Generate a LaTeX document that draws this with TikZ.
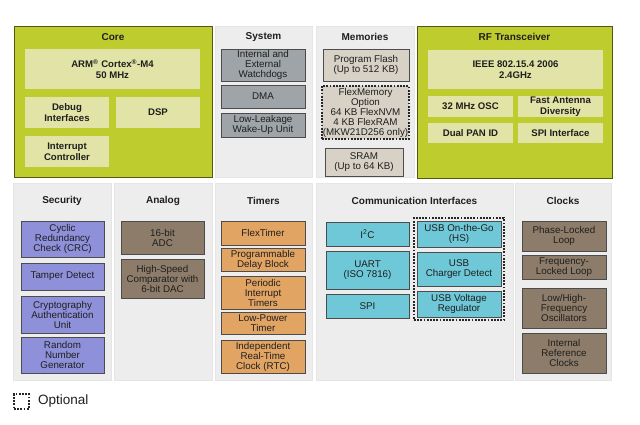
\documentclass[tikz,border=0pt]{standalone}
\usepackage{fontspec}
\setmainfont{Liberation Sans}
\usepackage{tikz}

\definecolor{lime}{HTML}{BFCC2E}
\definecolor{limedark}{HTML}{545912}
\definecolor{limepale}{HTML}{E1E4A6}
\definecolor{panelgray}{HTML}{EDEDED}
\definecolor{sysgray}{HTML}{9EA4A8}
\definecolor{memtan}{HTML}{D8D2C6}
\definecolor{secblue}{HTML}{8E90DA}
\definecolor{anabrown}{HTML}{8C7C69}
\definecolor{timorange}{HTML}{E2A463}
\definecolor{comcyan}{HTML}{6EC8D7}

\begin{document}
\begin{tikzpicture}[x=1pt,y=-1pt]
\tikzstyle{every node}+=[inner sep=0pt, align=center, text=black!88, font=\fontsize{9.8}{10}\selectfont]
\tikzstyle{panel}=[fill=panelgray, draw=black!10, line width=0.5]
\tikzstyle{limepanel}=[fill=lime, draw=limedark, line width=0.9]
\tikzstyle{title}=[font=\fontsize{10}{11}\selectfont\bfseries]
\tikzstyle{box}=[draw=black!70, line width=0.6]
\tikzstyle{corebox}=[fill=limepale, font=\fontsize{9.6}{10.5}\selectfont\bfseries]
\tikzstyle{sysbox}=[box, fill=sysgray, minimum width=84]
\tikzstyle{membox}=[box, fill=memtan]
\tikzstyle{secbox}=[box, fill=secblue, minimum width=83]
\tikzstyle{anabox}=[box, fill=anabrown, minimum width=83]
\tikzstyle{timbox}=[box, fill=timorange, minimum width=84]
\tikzstyle{combox}=[box, fill=comcyan, minimum width=83]
\tikzstyle{clkbox}=[box, fill=anabrown, minimum width=84]
\tikzstyle{optional}=[draw=black!85, dash pattern=on 1.8pt off 1.4pt, line width=1.1]
\useasboundingbox (0,0) rectangle (640,424);

% top row
\node[limepanel, minimum width=198, minimum height=151] (core) at (113,101.5) {};
\node[title] (coret) at (113,37) {Core};
\node[corebox, minimum width=175, minimum height=40] (arm) at (112.5,69) {ARM\textsuperscript{\textregistered} Cortex\textsuperscript{\textregistered}-M4\\50 MHz};
\node[corebox, minimum width=84, minimum height=31] (debug) at (67,112.5) {Debug\\Interfaces};
\node[corebox, minimum width=84, minimum height=31] (dsp) at (158,112.5) {DSP};
\node[corebox, minimum width=84, minimum height=31] (intc) at (67,151.5) {Interrupt\\Controller};

\node[panel, minimum width=97, minimum height=151] (sys) at (263.5,101.5) {};
\node[title] (syst) at (263.5,37) {System};
\node[sysbox, minimum height=32] (wdog) at (263,65) {Internal and\\External\\Watchdogs};
\node[sysbox, minimum height=23] (dma) at (263,96.5) {DMA};
\node[sysbox, minimum height=24] (llwu) at (263,125) {Low-Leakage\\Wake-Up Unit};

\node[panel, minimum width=98, minimum height=151] (mem) at (365,101.5) {};
\node[title] (memt) at (365,37) {Memories};
\node[membox, minimum width=86, minimum height=32] (flash) at (366,65) {Program Flash\\(Up to 512 KB)};
\node[fill=memtan, optional, minimum width=87, minimum height=53] (flexmem) at (365.5,112.5) {FlexMemory\\Option\\64 KB FlexNVM\\4 KB FlexRAM\\(MKW21D256 only)};
\node[membox, minimum width=78, minimum height=28] (sram) at (364,162) {SRAM\\(Up to 64 KB)};

\node[limepanel, minimum width=195, minimum height=152] (rf) at (514.5,102) {};
\node[title] (rft) at (514.5,37) {RF Transceiver};
\node[corebox, minimum width=175, minimum height=39] (ieee) at (515.5,69.5) {IEEE 802.15.4 2006\\2.4GHz};
\node[corebox, minimum width=85, minimum height=21] (osc) at (470.5,106.5) {32 MHz OSC};
\node[corebox, minimum width=85, minimum height=21] (antenna) at (560.5,106.5) {Fast Antenna\\Diversity};
\node[corebox, minimum width=85, minimum height=20] (pan) at (470.5,133) {Dual PAN ID};
\node[corebox, minimum width=85, minimum height=20] (rfspi) at (560.5,133) {SPI Interface};

% bottom row
\node[panel, minimum width=98, minimum height=197] (sec) at (62,281.5) {};
\node[title] (sect) at (62,201) {Security};
\node[secbox, minimum height=36] (crc) at (62.5,239) {Cyclic\\Redundancy\\Check (CRC)};
\node[secbox, minimum height=27] (tamper) at (62.5,276.5) {Tamper Detect};
\node[secbox, minimum height=37] (crypto) at (62.5,314.5) {Cryptography\\Authentication\\Unit};
\node[secbox, minimum height=36] (rng) at (62.5,355) {Random\\Number\\Generator};

\node[panel, minimum width=98, minimum height=197] (ana) at (163,281.5) {};
\node[title] (anat) at (163,201) {Analog};
\node[anabox, minimum height=33] (adc) at (162.5,237.5) {16-bit\\ADC};
\node[anabox, minimum height=39] (cmp) at (162.5,278.5) {High-Speed\\Comparator with\\6-bit DAC};

\node[panel, minimum width=97, minimum height=197] (tim) at (263.5,281.5) {};
\node[title] (timt) at (263.5,201) {Timers};
\node[timbox, minimum height=24] (ftm) at (263,233) {FlexTimer};
\node[timbox, minimum height=23] (pdb) at (263,259.5) {Programmable\\Delay Block};
\node[timbox, minimum height=33] (pit) at (263,292.5) {Periodic\\Interrupt\\Timers};
\node[timbox, minimum height=22] (lptmr) at (263,323.5) {Low-Power\\Timer};
\node[timbox, minimum height=33] (rtc) at (263,356.5) {Independent\\Real-Time\\Clock (RTC)};

\node[panel, minimum width=197, minimum height=197] (com) at (414.5,281.5) {};
\node[title] (comt) at (414.5,201) {Communication Interfaces};
\node[combox, minimum height=24] (iic) at (367.5,234) {I\textsuperscript{2}C};
\node[combox, minimum height=38] (uart) at (367.5,270) {UART\\(ISO 7816)};
\node[combox, minimum height=24] (spi) at (367.5,306) {SPI};
\node[optional, minimum width=90, minimum height=102] (usbopt) at (459,269) {};
\node[combox, minimum width=84, minimum height=26] (otg) at (459,234) {USB On-the-Go\\(HS)};
\node[combox, minimum width=84, minimum height=34] (usbdcd) at (459,269) {USB\\Charger Detect};
\node[combox, minimum width=84, minimum height=26] (usbvreg) at (459,304) {USB Voltage\\Regulator};

\node[panel, minimum width=96, minimum height=197] (clk) at (563,281.5) {};
\node[title] (clkt) at (563,201) {Clocks};
\node[clkbox, minimum height=30] (pll) at (564,236) {Phase-Locked\\Loop};
\node[clkbox, minimum height=24] (fll) at (564,267) {Frequency-\\Locked Loop};
\node[clkbox, minimum height=40] (xosc) at (564,308) {Low/High-\\Frequency\\Oscillators};
\node[clkbox, minimum height=40] (irc) at (564,353) {Internal\\Reference\\Clocks};

% legend
\node[optional, minimum width=15, minimum height=15] (legbox) at (21.5,401.5) {};
\node[anchor=west, font=\fontsize{13.5}{15}\selectfont] (legtext) at (38,401.5) {Optional};
\end{tikzpicture}
\end{document}
